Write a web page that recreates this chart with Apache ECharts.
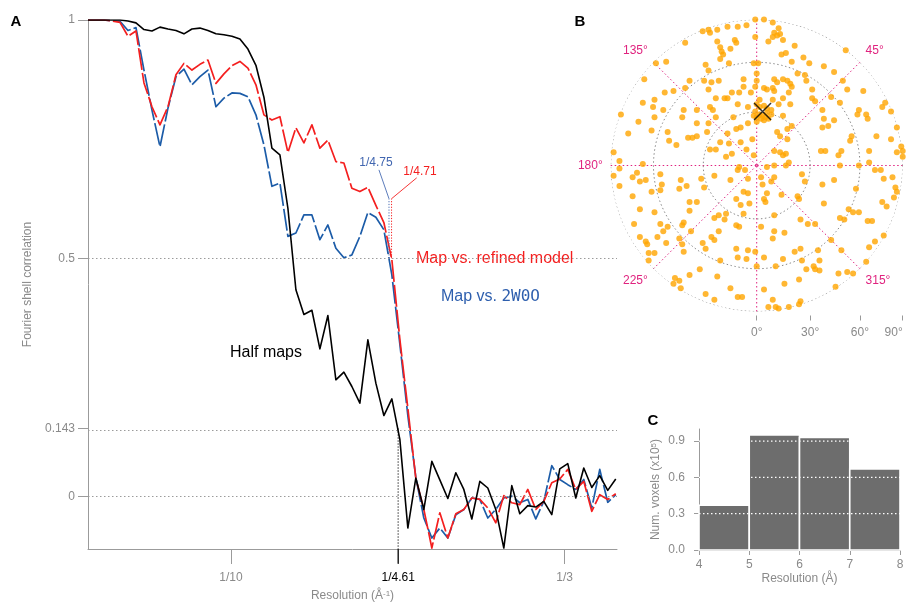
<!DOCTYPE html>
<html>
<head>
<meta charset="utf-8">
<script src="https://cdn.jsdelivr.net/npm/echarts@6/dist/echarts.min.js"></script>
<style>
  html, body { margin: 0; padding: 0; background: #fff; }
  #c { width: 908px; height: 603px; }
</style>
</head>
<body>
<div id="c"></div>
<script>
// ---------- Panel A: Fourier shell correlation, one value per shell ----------
const SHELL_STEP = 1 / 178.8;            // spatial frequency per shell (1/Å)
const FREQ_MAX = 0.37;

const halfMaps = [
  1.000, 1.000, 1.000, 1.000, 1.000, 0.998, 0.994, 0.980, 0.977, 0.985,
  0.981, 0.978, 0.971, 0.981, 0.983, 0.978, 0.971, 0.969, 0.966, 0.960,
  0.939, 0.905, 0.838, 0.731, 0.717, 0.605, 0.434, 0.382, 0.391, 0.310,
  0.380, 0.245, 0.261, 0.231, 0.196, 0.329, 0.238, 0.170, 0.205, 0.120,
  -0.066, 0.039, -0.027, 0.074, 0.035, -0.004, 0.050, 0.015, -0.047, 0.032,
  0.018, -0.027, -0.108, 0.023, -0.036, -0.019, -0.022, -0.010, -0.038, 0.058,
  0.069, -0.003, 0.060, 0.019, 0.044, 0.013, 0.037
];
const mapVsModel = [
  1.000, 1.000, 1.000, 0.998, 0.995, 0.966, 0.977, 0.868, 0.818, 0.780,
  0.818, 0.885, 0.909, 0.895, 0.907, 0.916, 0.867, 0.887, 0.904, 0.913,
  0.899, 0.864, 0.801, 0.790, 0.797, 0.722, 0.774, 0.742, 0.780, 0.731,
  0.748, 0.703, 0.700, 0.647, 0.640, 0.649, 0.611, 0.575, 0.497, 0.330,
  0.185, 0.038, -0.027, -0.108, -0.034, -0.087, -0.036, -0.027, -0.003, -0.006,
  -0.024, -0.055, 0.002, -0.013, -0.017, 0.015, -0.027, -0.010, 0.029, 0.037,
  0.057, 0.015, 0.032, -0.031, 0.004, -0.006, 0.006
];
const mapVs2W0O = [
  1.000, 1.000, 1.000, 0.998, 0.997, 0.978, 0.984, 0.895, 0.811, 0.734,
  0.815, 0.881, 0.897, 0.864, 0.881, 0.895, 0.818, 0.836, 0.847, 0.846,
  0.839, 0.801, 0.738, 0.651, 0.658, 0.546, 0.553, 0.591, 0.591, 0.539,
  0.570, 0.521, 0.501, 0.507, 0.546, 0.596, 0.586, 0.560, 0.465, 0.320,
  0.170, 0.040, -0.045, -0.087, -0.066, -0.087, -0.038, -0.027, -0.003, -0.006,
  -0.045, -0.027, -0.003, 0.001, -0.013, -0.006, -0.047, -0.010, 0.065, 0.036,
  0.025, 0.015, 0.036, -0.024, 0.057, -0.012, 0.004
];
const fscTicks = [0, 0.143, 0.5, 1];
const fscRefLevels = [0, 0.143, 0.5];
const FSC_MIN = -0.11;
const resTickValues = [1 / 10, 1 / 4.61, 1 / 3];
const resTickLabels = ['1/10', '1/4.61', '1/3'];
const cutHalf = 1 / 4.61, cutModel = 1 / 4.71, cut2W0O = 1 / 4.75;
const cutLabelLevel = 0.625;

// ---------- Panel B: view directions on an equal-area disc (unit radius = 90° tilt) ----------
const viewXY = [
  [-0.01,1.00],[0.05,1.00],[0.11,0.98],[-0.07,0.96],[-0.13,0.95],[-0.20,0.95],[-0.27,0.93],[-0.32,0.91],[-0.33,0.93],[-0.37,0.92],
  [0.15,0.94],[0.12,0.91],[0.14,0.89],[0.16,0.90],[0.11,0.88],[0.08,0.85],[0.18,0.86],[-0.15,0.86],[-0.14,0.84],[-0.27,0.85],
  [-0.49,0.84],[-0.01,0.88],[0.26,0.82],[0.20,0.77],[0.17,0.76],[-0.25,0.81],[-0.24,0.78],[-0.23,0.76],[-0.18,0.80],[-0.25,0.73],
  [0.32,0.74],[0.36,0.70],[0.24,0.71],[-0.02,0.70],[0.01,0.70],[0.61,0.79],[-0.62,0.71],[-0.69,0.70],[-0.35,0.69],[-0.33,0.65],
  [0.28,0.63],[0.33,0.62],[0.46,0.68],[0.53,0.64],[0.12,0.59],[0.00,0.63],[-0.19,0.70],
  [-0.77,0.59],[-0.46,0.58],[-0.36,0.58],[-0.31,0.57],[-0.26,0.58],[-0.09,0.59],[-0.09,0.54],[0.00,0.58],[-0.01,0.54],[0.05,0.53],
  [0.14,0.57],[0.21,0.58],[0.23,0.56],[0.24,0.54],[0.18,0.59],[0.11,0.53],[0.12,0.51],[0.07,0.52],[0.22,0.50],[0.34,0.58],
  [0.38,0.52],[0.59,0.58],[0.62,0.52],[0.73,0.51],[-0.63,0.50],[-0.57,0.51],[-0.49,0.53],[-0.78,0.43],[-0.71,0.40],[-0.33,0.52],
  [-0.17,0.50],[-0.12,0.50],[-0.22,0.46],[-0.20,0.46],[-0.28,0.46],[-0.04,0.50],[-0.13,0.42],[0.02,0.45],[0.11,0.45],[0.15,0.42],
  [0.18,0.46],[0.23,0.42],[0.38,0.46],[0.40,0.44],[0.51,0.47],[0.45,0.38],[0.57,0.43],[0.86,0.40],[0.88,0.43],[0.92,0.37],
  [-0.50,0.38],[-0.41,0.38],[-0.32,0.40],[-0.30,0.38],[-0.06,0.40],
  [0.00,0.42],[0.02,0.40],[0.05,0.41],[0.07,0.39],[0.10,0.38],[-0.01,0.37],[0.02,0.35],[0.04,0.34],[0.06,0.33],[0.08,0.32],
  [0.00,0.33],[0.03,0.32],[0.05,0.31],[-0.02,0.34],[0.00,0.30],[0.07,0.36],[0.10,0.35],
  [-0.93,0.35],[-0.81,0.30],[-0.70,0.33],[-0.51,0.33],[-0.41,0.29],[-0.33,0.29],[-0.28,0.33],[-0.16,0.33],[-0.14,0.25],[-0.11,0.26],
  [-0.06,0.29],[0.18,0.34],[0.21,0.25],[0.24,0.27],[0.46,0.32],[0.53,0.31],[0.49,0.27],[0.45,0.26],[0.70,0.38],[0.75,0.35],
  [0.69,0.35],[0.76,0.32],[0.96,0.26],[-0.88,0.22],[-0.72,0.24],[-0.60,0.17],[-0.47,0.19],[-0.44,0.19],[-0.41,0.20],[-0.34,0.23],
  [-0.20,0.22],[-0.11,0.16],[-0.03,0.18],[0.16,0.20],[0.21,0.18],[0.14,0.23],[0.65,0.20],[0.64,0.17],[0.92,0.18],[0.82,0.20],
  [-0.25,0.16],[-0.19,0.15],
  [0.99,0.13],[1.00,0.10],[1.00,0.06],[0.96,0.09],[0.77,0.10],[0.58,0.10],[0.56,0.07],[0.47,0.10],[0.44,0.10],[-0.98,0.09],
  [-0.94,0.03],[-0.78,0.01],
  [-0.32,0.11],[-0.28,0.11],[-0.21,0.06],[-0.17,0.08],[-0.07,0.11],[-0.02,0.07],[0.12,0.10],[0.16,0.09],[0.18,0.07],[0.20,0.08],[0.22,0.02],
  [-0.12,-0.01],[-0.13,-0.03],[-0.08,-0.03],[0.07,-0.01],[0.12,0.00],[0.20,0.00],[0.57,0.00],[0.70,0.00],[0.77,0.02],[0.81,-0.03],[0.85,-0.03],
  [-0.94,-0.02],[-0.98,-0.07],[-0.94,-0.14],[-0.85,-0.08],[-0.82,-0.05],[-0.80,-0.11],[-0.76,-0.10],[-0.66,-0.06],[-0.65,-0.13],[-0.66,-0.17],
  [-0.72,-0.18],[-0.52,-0.10],[-0.48,-0.14],[-0.53,-0.16],[-0.38,-0.09],[-0.36,-0.15],[-0.29,-0.07],[-0.18,-0.10],[-0.06,-0.09],[-0.09,-0.18],
  [-0.06,-0.19],[0.03,-0.08],[0.04,-0.13],[0.12,-0.08],[0.10,-0.11],[0.07,-0.19],[0.17,-0.20],[0.31,-0.06],[0.33,-0.11],[0.45,-0.13],
  [0.53,-0.10],[0.68,-0.16],[0.87,-0.09],[0.93,-0.08],[0.95,-0.15],[0.96,-0.18],[0.94,-0.22],
  [-0.85,-0.21],[-0.80,-0.30],[-0.70,-0.32],[-0.46,-0.25],[-0.46,-0.31],[-0.41,-0.25],[-0.14,-0.23],[-0.05,-0.26],[-0.11,-0.27],[0.05,-0.23],
  [0.06,-0.25],[0.28,-0.21],[0.29,-0.23],[0.46,-0.26],[0.63,-0.30],[0.66,-0.32],[0.70,-0.32],[0.86,-0.25],[0.89,-0.28],[-0.26,-0.34],
  [-0.21,-0.33],[-0.29,-0.36],[-0.22,-0.37],[-0.09,-0.33],[-0.14,-0.41],[-0.12,-0.42],[0.12,-0.34],[0.57,-0.36],[0.60,-0.37],[0.76,-0.38],
  [0.79,-0.38],[0.30,-0.37],[0.35,-0.40],[-0.50,-0.39],[-0.51,-0.41],[-0.66,-0.40],[-0.61,-0.42],[-0.84,-0.40],
  [-0.64,-0.45],[-0.68,-0.49],[-0.80,-0.49],[-0.76,-0.52],[-0.75,-0.54],[-0.62,-0.53],[-0.53,-0.50],[-0.51,-0.54],[-0.50,-0.59],[-0.74,-0.60],
  [-0.70,-0.60],[-0.45,-0.45],[-0.26,-0.45],[-0.31,-0.49],[-0.29,-0.51],[-0.35,-0.57],[-0.37,-0.53],[-0.14,-0.57],[-0.06,-0.58],[-0.13,-0.63],
  [-0.07,-0.64],[-0.01,-0.59],[0.03,-0.42],[0.12,-0.45],[0.11,-0.50],[0.19,-0.46],[0.40,-0.40],[0.51,-0.51],[0.58,-0.58],[0.42,-0.58],
  [0.30,-0.57],[0.81,-0.52],[0.77,-0.56],[0.87,-0.48],[0.05,-0.63],[0.18,-0.64],[0.26,-0.59],[0.31,-0.65],[0.43,-0.65],[-0.74,-0.65],
  [-0.25,-0.65],
  [0.39,-0.69],[0.40,-0.71],[0.75,-0.66],[0.62,-0.73],[0.56,-0.74],[0.66,-0.74],[0.54,-0.83],[0.30,-0.93],[0.29,-0.95],[0.22,-0.97],
  [0.13,-0.97],[0.08,-0.97],[0.15,-0.98],[0.11,-0.92],[0.05,-0.85],[0.19,-0.81],[-0.13,-0.90],[-0.10,-0.90],[-0.29,-0.92],
  [-0.35,-0.88],[-0.46,-0.75],[-0.56,-0.77],[-0.53,-0.79],[-0.57,-0.81],[-0.52,-0.84],[-0.39,-0.71],[-0.27,-0.76],[-0.18,-0.84],[0.00,-0.69],
  [0.13,-0.69],[0.34,-0.71],[0.29,-0.78],[0.43,-0.72],
  [-0.61,0.23],[-0.55,0.14],[-0.64,0.38],[-0.70,0.45]
];
const viewCentre = [0.04, 0.37];
const tiltTicks = [0, 30, 60, 90];
const azimuthLabels = [45, 135, 180, 225, 315];

// ---------- Panel C: local resolution histogram ----------
const resBins = [[4, 5], [5, 6], [6, 7], [7, 8]];
const voxelCounts = [0.37, 0.95, 0.93, 0.67];   // x10^5
const countTicks = [0, 0.3, 0.6, 0.9];

// ---------- styling ----------
const FONT = '"Liberation Sans", Arial, Helvetica, sans-serif';
const GREY_TXT = '#8a8a8a';
const GREY_AX = '#9b9b9b';
const RED = '#f41f1f';
const BLUE = '#1c5ca8';
const BLUE_TXT = '#2e5fae';
const PINK = '#e0237f';
const ORANGE = '#ffa500';
const DOTS = [1.5, 2.5];

// equal-area projection of a tilt angle onto the unit disc
const tiltToR = t => Math.sin(t * Math.PI / 360) / Math.SQRT1_2;
const rToTilt = r => Math.round(Math.asin(r * Math.SQRT1_2) * 360 / Math.PI);

const toCurve = vals => vals.map((v, i) => [i * SHELL_STEP, v]);

const chart = echarts.init(document.getElementById('c'), null, { renderer: 'canvas' });

const series = [];

// A: dotted reference levels
series.push({
  type: 'line', xAxisIndex: 0, yAxisIndex: 0, data: [], silent: true, z: 1,
  markLine: {
    silent: true, symbol: ['none', 'none'], label: { show: false },
    lineStyle: { color: GREY_AX, width: 1, type: DOTS },
    data: fscRefLevels.map(v => ({ yAxis: v }))
  }
});

const curveBase = { type: 'line', xAxisIndex: 0, yAxisIndex: 0, showSymbol: false, silent: true, animation: false };
series.push(Object.assign({}, curveBase, {
  name: 'Map vs. 2W0O', data: toCurve(mapVs2W0O), z: 3,
  lineStyle: { color: BLUE, width: 1.7, type: [22, 3], join: 'round' }
}));
series.push(Object.assign({}, curveBase, {
  name: 'Map vs. refined model', data: toCurve(mapVsModel), z: 4,
  lineStyle: { color: RED, width: 1.7, type: [22, 3], join: 'round' }
}));
series.push(Object.assign({}, curveBase, {
  name: 'Half maps', data: toCurve(halfMaps), z: 5,
  lineStyle: { color: '#000', width: 1.6, join: 'round' }
}));

// A: resolution cut-off markers
const segment = (pts, style, extra) => Object.assign({
  type: 'line', xAxisIndex: 0, yAxisIndex: 0, showSymbol: false, silent: true, animation: false,
  data: pts, lineStyle: style, z: 6
}, extra || {});
series.push(segment([[cut2W0O, 0.5], [cut2W0O, cutLabelLevel]], { color: '#4a6db3', width: 1, type: [1.2, 1.6] }));
series.push(segment([[cutModel, 0.5], [cutModel, cutLabelLevel]], { color: RED, width: 1, type: [1.2, 1.6] }));
series.push(segment([[cut2W0O, cutLabelLevel], [0.2035, 0.6855]], { color: '#4a6db3', width: 0.9 }));
series.push(segment([[cutModel, cutLabelLevel], [0.2299, 0.6688]], { color: RED, width: 0.9 }));
series.push(segment([[cutHalf, 0.143], [cutHalf, FSC_MIN]], { color: '#000', width: 1, type: [1.2, 1.8] }));
series.push(segment([[cutHalf, FSC_MIN], [cutHalf, FSC_MIN - 0.031]], { color: '#000', width: 1.2 }, { clip: false }));

// B: tilt rings
tiltTicks.filter(t => t > 0).forEach(t => {
  const ring = [];
  for (let a = 0; a <= 360; a += 2) ring.push([tiltToR(t), a]);
  series.push({
    type: 'line', coordinateSystem: 'polar', polarIndex: 0, data: ring, showSymbol: false,
    silent: true, animation: false, z: 1,
    lineStyle: { color: '#8a8a8a', width: 1, type: DOTS }
  });
});
// B: views
series.push({
  type: 'scatter', xAxisIndex: 1, yAxisIndex: 1, data: viewXY, symbolSize: 6,
  itemStyle: { color: ORANGE }, silent: true, animation: false, z: 3
});
series.push({
  type: 'scatter', xAxisIndex: 1, yAxisIndex: 1, data: [viewCentre],
  symbol: 'path://M0,0L10,10M10,0L0,10', symbolSize: 17,
  itemStyle: { color: 'none', borderColor: '#000', borderWidth: 1.5 },
  silent: true, animation: false, z: 4
});

// C: histogram bars
series.push({
  type: 'custom', xAxisIndex: 2, yAxisIndex: 2, silent: true, animation: false, z: 2,
  data: resBins.map((b, i) => [b[0], b[1], voxelCounts[i]]),
  encode: { x: [0, 1], y: 2 },
  renderItem: (params, api) => {
    const p0 = api.coord([api.value(0), api.value(2)]);
    const p1 = api.coord([api.value(1), 0]);
    return {
      type: 'rect',
      shape: { x: p0[0], y: p0[1], width: p1[0] - p0[0], height: p1[1] - p0[1] },
      style: { fill: '#6d6d6d', stroke: '#fff', lineWidth: 1.6 }
    };
  }
});
countTicks.filter(v => v > 0).forEach(v => {
  series.push({
    type: 'line', xAxisIndex: 2, yAxisIndex: 2, data: [[resBins[0][0], v], [resBins[resBins.length - 1][1], v]],
    showSymbol: false, silent: true, animation: false, z: 5,
    lineStyle: { color: '#fff', width: 1.2, type: DOTS }
  });
});

const tickLabelStyle = { color: GREY_TXT, fontSize: 12, fontFamily: FONT };

const option = {
  animation: false,
  backgroundColor: '#fff',
  textStyle: { fontFamily: FONT },
  grid: [
    { left: 88, top: 20, width: 529, height: 529, outerBoundsMode: 'none', containLabel: false },
    { left: 610.7, top: 19.5, width: 292, height: 292, outerBoundsMode: 'none', containLabel: false },
    { left: 699, top: 429, width: 201, height: 121, outerBoundsMode: 'none', containLabel: false }
  ],
  polar: { center: [756.7, 165.5], radius: 146 },
  angleAxis: {
    type: 'value', min: 0, max: 360, interval: 45, startAngle: 0, clockwise: false,
    axisLine: { show: false }, axisTick: { show: false },
    splitLine: { show: true, lineStyle: { color: PINK, width: 1, type: DOTS } },
    axisLabel: {
      show: true, margin: 8, color: PINK, fontSize: 12, fontFamily: FONT,
      formatter: v => azimuthLabels.indexOf(v) >= 0 ? v + '°' : ''
    }
  },
  radiusAxis: {
    type: 'value', min: 0, max: 1,
    axisLine: { show: false }, axisTick: { show: false }, axisLabel: { show: false }, splitLine: { show: false }
  },
  xAxis: [
    {
      gridIndex: 0, type: 'value', min: 0, max: FREQ_MAX,
      axisLine: { show: true, onZero: false, lineStyle: { color: GREY_AX, width: 1 } },
      axisTick: { show: true, length: 15, customValues: resTickValues, lineStyle: { color: GREY_AX } },
      axisLabel: {
        show: true, margin: 23, customValues: resTickValues, ...tickLabelStyle,
        formatter: v => {
          const i = resTickValues.findIndex(t => Math.abs(t - v) < 1e-6);
          if (i < 0) return '';
          return i === 1 ? '{k|' + resTickLabels[i] + '}' : resTickLabels[i];
        },
        rich: { k: { color: '#000', fontSize: 12, fontFamily: FONT } }
      },
      splitLine: { show: false },
      name: '{t|Resolution (Å}{s|-1}{t|)}', nameLocation: 'middle', nameGap: 41,
      nameTextStyle: {
        rich: {
          t: { color: GREY_TXT, fontSize: 12, fontFamily: FONT },
          s: { color: GREY_TXT, fontSize: 8, fontFamily: FONT, verticalAlign: 'top', lineHeight: 10 }
        }
      }
    },
    {
      gridIndex: 1, type: 'value', min: -1, max: 1, position: 'bottom', offset: 4,
      axisLine: { show: false, onZero: false },
      axisTick: { show: true, length: 5, customValues: tiltTicks.map(tiltToR), lineStyle: { color: '#999' } },
      axisLabel: {
        show: true, margin: 11, customValues: tiltTicks.map(tiltToR), ...tickLabelStyle,
        alignMaxLabel: 'right',
        formatter: v => v < -1e-6 ? '' : rToTilt(v) + '°'
      },
      splitLine: { show: false }
    },
    {
      gridIndex: 2, type: 'value', min: 4, max: 8, interval: 1,
      axisLine: { show: true, onZero: false, lineStyle: { color: GREY_AX } },
      axisTick: { show: true, length: 5, lineStyle: { color: GREY_AX } },
      axisLabel: { show: true, margin: 9, ...tickLabelStyle },
      splitLine: { show: false },
      name: 'Resolution (Å)', nameLocation: 'middle', nameGap: 23,
      nameTextStyle: { color: GREY_TXT, fontSize: 12, fontFamily: FONT }
    }
  ],
  yAxis: [
    {
      gridIndex: 0, type: 'value', min: FSC_MIN, max: 1,
      axisLine: { show: true, onZero: false, lineStyle: { color: GREY_AX, width: 1 } },
      axisTick: { show: true, length: 10, customValues: fscTicks, lineStyle: { color: GREY_AX } },
      axisLabel: {
        show: true, margin: 13, customValues: fscTicks, ...tickLabelStyle,
        formatter: v => String(fscTicks.find(t => Math.abs(t - v) < 1e-6) ?? '')
      },
      splitLine: { show: false },
      name: 'Fourier shell correlation', nameLocation: 'middle', nameGap: 50, nameRotate: 90,
      nameTextStyle: { color: GREY_TXT, fontSize: 12, fontFamily: FONT }
    },
    {
      gridIndex: 1, type: 'value', min: -1, max: 1, show: false
    },
    {
      gridIndex: 2, type: 'value', min: 0, max: 1,
      axisLine: { show: true, onZero: false, lineStyle: { color: GREY_AX } },
      axisTick: { show: true, length: 5, customValues: countTicks, lineStyle: { color: GREY_AX } },
      axisLabel: {
        show: true, margin: 14, customValues: countTicks, ...tickLabelStyle,
        formatter: v => v.toFixed(1)
      },
      splitLine: { show: false },
      name: '{t|Num. voxels (x10}{s|5}{t|)}', nameLocation: 'middle', nameGap: 37, nameRotate: 90,
      nameTextStyle: {
        rich: {
          t: { color: GREY_TXT, fontSize: 12, fontFamily: FONT },
          s: { color: GREY_TXT, fontSize: 8, fontFamily: FONT, verticalAlign: 'top', lineHeight: 10 }
        }
      }
    }
  ],
  graphic: [
    { type: 'text', x: 16, y: 22, style: { text: 'A', fill: '#000', font: 'bold 15px ' + FONT, align: 'center', verticalAlign: 'middle' } },
    { type: 'text', x: 580, y: 22, style: { text: 'B', fill: '#000', font: 'bold 15px ' + FONT, align: 'center', verticalAlign: 'middle' } },
    { type: 'text', x: 653, y: 421, style: { text: 'C', fill: '#000', font: 'bold 15px ' + FONT, align: 'center', verticalAlign: 'middle' } },
    { type: 'text', x: 376, y: 163, style: { text: '1/4.75', fill: '#4166b0', font: '12px ' + FONT, align: 'center', verticalAlign: 'middle' } },
    { type: 'text', x: 420, y: 172, style: { text: '1/4.71', fill: RED, font: '12px ' + FONT, align: 'center', verticalAlign: 'middle' } },
    { type: 'text', x: 416, y: 259, style: { text: 'Map vs. refined model', fill: RED, font: '16px ' + FONT, align: 'left', verticalAlign: 'middle' } },
    {
      type: 'text', x: 441, y: 297,
      style: {
        text: '{a|Map vs. }{m|2W0O}', align: 'left', verticalAlign: 'middle',
        rich: {
          a: { fill: BLUE_TXT, fontSize: 16, fontFamily: FONT },
          m: { fill: BLUE_TXT, fontSize: 16, fontFamily: '"DejaVu Sans Mono", "Liberation Mono", monospace' }
        }
      }
    },
    { type: 'text', x: 302, y: 353, style: { text: 'Half maps', fill: '#000', font: '16px ' + FONT, align: 'right', verticalAlign: 'middle' } }
  ],
  series: series
};

chart.setOption(option);
</script>
</body>
</html>
